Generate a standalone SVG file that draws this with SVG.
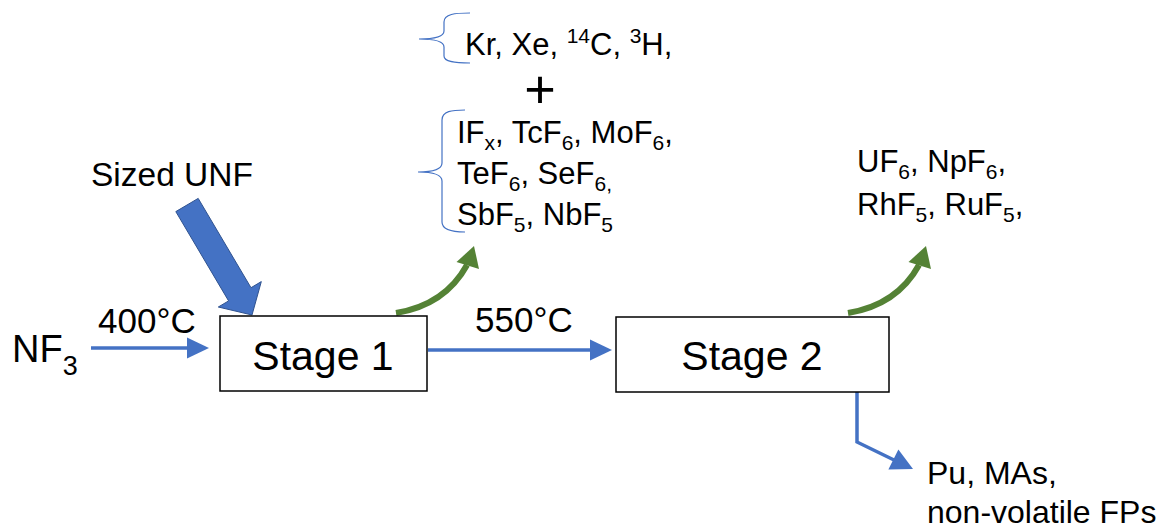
<svg xmlns="http://www.w3.org/2000/svg" width="1166" height="531" viewBox="0 0 1166 531">
<style>
text{font-family:"Liberation Sans",Arial,sans-serif;fill:#000}
.box{fill:#fff;stroke:#000;stroke-width:1.5}
.blue{fill:none;stroke:#4472C4;stroke-width:3.5}
.bluehead{fill:#4472C4}
.green{fill:none;stroke:#548235;stroke-width:6}
.greenhead{fill:#548235}
.brace{fill:none;stroke:#4472C4;stroke-width:1.2}
.stage{font-size:41px}
</style>
<rect width="1166" height="531" fill="#fff"/>
<g id="connectors">
  <g id="nf3-arrow">
    <line class="blue" x1="91" y1="348" x2="189" y2="348"/>
    <polygon class="bluehead" points="209,348 187,337.5 187,358.5"/>
  </g>
  <g id="s1-s2-arrow">
    <line class="blue" x1="428" y1="350" x2="592" y2="350"/>
    <polygon class="bluehead" points="612,350 590,339.5 590,360.5"/>
  </g>
  <g id="s2-down-arrow">
    <polyline class="blue" points="857,392 857,442 894,460"/>
    <polygon class="bluehead" points="913,469 888.4,469.5 898.4,449.4"/>
  </g>
  <g id="unf-arrow">
    <polygon points="175.8,211.6 198.2,198.4 251,287.7 261.3,281.6 252,315 218.3,307 228.6,300.9" fill="#4472C4" stroke="#2F528F" stroke-width="1"/>
  </g>
  <g id="s1-green">
    <path class="green" d="M396,313 Q445,305 467,265"/>
    <polygon class="greenhead" points="474,246 456.5,262 479,269"/>
  </g>
  <g id="s2-green" transform="translate(452,0)">
    <path class="green" d="M396,313 Q445,305 467,265"/>
    <polygon class="greenhead" points="474,246 456.5,262 479,269"/>
  </g>
</g>
<g id="stage1">
  <rect class="box" x="220" y="316" width="207" height="75"/>
  <text class="stage" x="323" y="370" text-anchor="middle">Stage 1</text>
</g>
<g id="stage2">
  <rect class="box" x="616" y="317" width="273" height="75"/>
  <text class="stage" x="752" y="370" text-anchor="middle">Stage 2</text>
</g>
<g id="nf3">
  <text x="12" y="362" font-size="38">NF<tspan font-size="27" dy="13">3</tspan></text>
</g>
<g id="t400">
  <text x="98" y="333" font-size="35">400°C</text>
</g>
<g id="t550">
  <text x="475" y="332" font-size="35">550°C</text>
</g>
<g id="sized-unf">
  <text x="91" y="186" font-size="33.5">Sized UNF</text>
</g>
<g id="gases">
  <path class="brace" d="M470,13 C455,13 444,14 444,22 L444,31 C444,36 436,39 419,39 C436,39 444,42 444,47 L444,56 C444,62 455,63 470,63"/>
  <text x="465" y="55" font-size="31">Kr, Xe, <tspan font-size="21" dy="-12">14</tspan><tspan dy="12">C, </tspan><tspan font-size="21" dy="-12">3</tspan><tspan dy="12">H,</tspan></text>
  <text x="540" y="108" font-size="54" text-anchor="middle">+</text>
  <path class="brace" d="M465,110 C452,110 442,111 442,120 L442,163 C442,169 434,172 418,172 C434,172 442,175 442,181 L442,222 C442,230 452,232 465,232"/>
  <text x="457" y="143" font-size="31">IF<tspan font-size="21" dy="7">x</tspan><tspan dy="-7">, TcF</tspan><tspan font-size="21" dy="7">6</tspan><tspan dy="-7">, MoF</tspan><tspan font-size="21" dy="7">6</tspan><tspan dy="-7">,</tspan></text>
  <text x="457" y="184" font-size="31">TeF<tspan font-size="21" dy="7">6</tspan><tspan dy="-7">, SeF</tspan><tspan font-size="21" dy="7">6,</tspan></text>
  <text x="457" y="225" font-size="31">SbF<tspan font-size="21" dy="7">5</tspan><tspan dy="-7">, NbF</tspan><tspan font-size="21" dy="7">5</tspan></text>
</g>
<g id="stage2-volatiles">
  <text x="857" y="172" font-size="31">UF<tspan font-size="21" dy="7">6</tspan><tspan dy="-7">, NpF</tspan><tspan font-size="21" dy="7">6</tspan><tspan dy="-7">,</tspan></text>
  <text x="857" y="215" font-size="31">RhF<tspan font-size="21" dy="7">5</tspan><tspan dy="-7">, RuF</tspan><tspan font-size="21" dy="7">5</tspan><tspan dy="-7">,</tspan></text>
</g>
<g id="residue">
  <text x="927" y="484" font-size="32">Pu, MAs,</text>
  <text x="927" y="523" font-size="32">non-volatile FPs</text>
</g>
</svg>
